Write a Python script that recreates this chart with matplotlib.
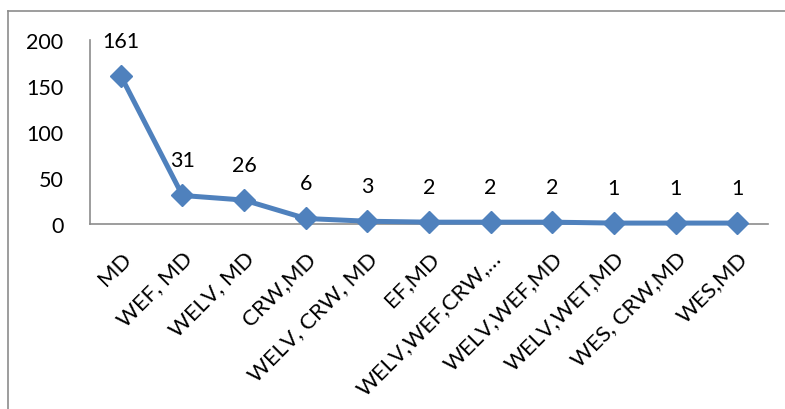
import matplotlib
matplotlib.use("Agg")
import matplotlib.pyplot as plt
import matplotlib.transforms as mtransforms
from matplotlib.lines import Line2D

categories = ["MD", "WEF, MD", "WELV, MD", "CRW,MD", "WELV, CRW, MD", "EF,MD",
              "WELV,WEF,CRW,…", "WELV,WEF,MD", "WELV,WET,MD", "WES, CRW,MD", "WES,MD"]
values = [161, 31, 26, 6, 3, 2, 2, 2, 1, 1, 1]
yticks = [0, 50, 100, 150, 200]

plt.rcParams['font.family'] = ['Lato', 'DejaVu Sans']

W, H = 785, 410
fig = plt.figure(figsize=(W / 100, H / 100), dpi=100)

# outer chart frame (cropped on right and bottom)
fig.add_artist(Line2D([8 / W, 8 / W], [0, 1 - 12 / H], color="#8c8c8c", lw=1.2,
                      transform=fig.transFigure))
fig.add_artist(Line2D([8 / W, 1], [1 - 12 / H, 1 - 12 / H], color="#8c8c8c", lw=1.2,
                      transform=fig.transFigure))

ax = fig.add_axes([90 / W, 1 - 225 / H, (768 - 90) / W, (225 - 41) / H])
x = list(range(len(categories)))
ax.plot(x, values, color="#4F81BD", lw=3.6, marker="D", markersize=11,
        markeredgecolor="#4F81BD", markerfacecolor="#4F81BD", clip_on=False, zorder=3)

for xi, v in zip(x, values):
    ax.annotate(str(v), (xi, v), xytext=(0, 21), textcoords="offset points",
                ha="center", va="baseline", fontsize=15.5, color="black")

ax.set_xlim(-0.5, len(categories) - 0.5)
ax.set_ylim(0, 200)
ax.set_yticks(yticks)
ax.set_yticklabels([str(t) for t in yticks], fontsize=15.5)
ax.set_xticks(x)
ax.set_xticklabels(categories, fontsize=16, rotation=45, ha="right",
                   rotation_mode="anchor")
offset = mtransforms.ScaledTranslation(-4 / 100, 0, fig.dpi_scale_trans)
for lbl in ax.get_xticklabels():
    lbl.set_transform(lbl.get_transform() + offset)
ax.tick_params(axis="y", length=0, pad=19)
ax.tick_params(axis="x", length=0, pad=17)

for s in ["top", "right"]:
    ax.spines[s].set_visible(False)
for s in ["left", "bottom"]:
    ax.spines[s].set_color("#8c8c8c")
    ax.spines[s].set_linewidth(1.2)

fig.savefig("out.png", dpi=100)
